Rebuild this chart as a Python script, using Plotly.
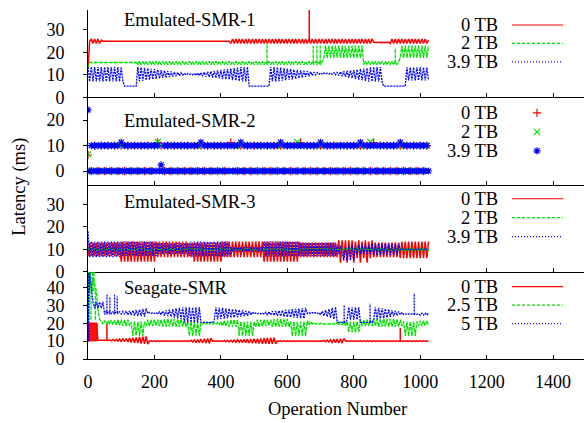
import plotly.graph_objects as go

# Latency sampled every 5 operations (panel-2 red/green every 10)
OPS = list(range(0, 1030, 5))
OPS_COARSE = list(range(0, 1030, 10))

X_TICKS = [0, 200, 400, 600, 800, 1000, 1200, 1400]

# ---- Emulated-SMR-1 ----
smr1_0tb = [
    13, 25, 26, 24, 26, 24, 26, 24, 25.5, 25, 25, 25, 25, 25, 25, 25, 25, 25, 25, 25,
    25, 25, 25, 25, 25, 25, 25, 25, 25, 25, 25, 25, 25, 25, 25, 25, 25, 25, 25, 25,
    25, 25, 25, 25, 25, 25, 25, 25, 25, 25, 25, 25, 25, 25, 25, 25, 25, 25, 25, 25,
    25, 25, 25, 25, 25, 25, 25, 25, 25, 25, 25, 25, 25, 25, 25, 25, 25, 25, 25, 25,
    25, 25, 25, 25, 25, 25, 24, 26, 24, 26, 24, 26, 24, 26, 24, 26, 24, 26, 24, 26,
    24, 26, 24, 26, 24, 26, 24, 26, 24, 26, 24, 26, 24, 26, 24, 26, 24, 26, 24, 26,
    24, 26, 24, 26, 24, 26, 24, 26, 24, 26, 24, 26, 24, 26, 24, 26, 24, 26, 24, 26,
    24, 26, 24, 26, 24, 26, 24, 26, 24, 26, 24, 26, 24, 26, 24, 26, 24, 26, 24, 26,
    24, 26, 24, 26, 24, 26, 24, 26, 24, 26, 24, 26, 24.5, 24.4, 24.5, 24.4, 24.5, 24.4, 24.5, 24.4,
    24.5, 24.4, 24, 26, 24, 26, 24, 26, 24, 26, 24, 26, 24, 26, 24, 26, 24, 26, 24, 26,
    24, 26, 24, 26, 24, 25.5]
smr1_2tb = [
    13, 15.5, 15.5, 15.5, 15.5, 15.5, 15.5, 15.5, 15.5, 15.5, 15.5, 15.5, 15.5, 15.5, 15.5, 15.5, 15.5, 15.5, 15.5, 15.5,
    15.5, 15.5, 15.5, 15.5, 15.5, 15.5, 15.5, 15.5, 15.5, 15.5, 14.5, 16, 14.5, 16, 14.5, 16, 14.5, 16, 14.5, 16,
    14.5, 16, 14.5, 16, 14.5, 16, 14.5, 16, 14.5, 16, 14.5, 16, 14.5, 16, 14.5, 16, 14.5, 16, 14.5, 16,
    14.5, 16, 14.5, 16, 14.5, 16, 14.5, 16, 14.5, 16, 14.5, 16, 14.5, 16, 14.5, 16, 14.5, 16, 14.5, 16,
    14.5, 16, 14.5, 16, 14.5, 16, 14.5, 16, 14.5, 16, 14.5, 16, 14.5, 16, 14.5, 16, 14.5, 16, 14.5, 16,
    14.5, 16, 14.5, 16, 14.5, 16, 14.5, 16, 14.5, 16, 14.5, 16, 14.5, 16, 14.5, 16, 14.5, 16, 14.5, 16,
    14.5, 16, 14.5, 16, 14.5, 16, 14.5, 16, 14.5, 16, 14.5, 16, 14.5, 16, 14.5, 16, 14.5, 16, 14.5, 16,
    14.5, 16, 17.5, 23, 17.5, 23, 17.5, 23, 17.5, 23, 17.5, 23, 17.5, 23, 17.5, 23, 17.5, 23, 17.5, 23,
    17.5, 23, 17.5, 23, 17.5, 23, 14.5, 16, 14.5, 16, 14.5, 16, 14.5, 16, 14.5, 16, 14.5, 16, 14.5, 16,
    14.5, 16, 14.5, 16, 14.5, 16, 14.5, 16, 17.5, 23, 17.5, 23, 17.5, 23, 17.5, 23, 17.5, 23, 17.5, 23,
    17.5, 23, 17.5, 23, 17.5, 23]
smr1_39tb = [
    13.5, 7, 13.5, 7, 13.5, 7, 13.5, 7, 13.5, 7, 13.5, 7, 13.5, 7, 13.5, 7, 13.5, 7, 13.5, 7,
    13.5, 7, 5, 5, 5, 5, 5, 5, 5, 5, 13.5, 7.2, 13.3, 7.4, 13.1, 7.6, 12.9, 7.8, 12.7, 8,
    12.5, 8.2, 12.3, 8.4, 12.1, 8.6, 11.9, 8.8, 11.7, 9, 11.5, 9.2, 11.3, 9.4, 11.1, 9.6, 10.9, 9.8, 10.7, 10,
    10.5, 10.1, 10.4, 10, 10.6, 9.8, 10.8, 9.6, 11, 9.4, 11.2, 9.2, 11.4, 9, 11.6, 8.8, 11.8, 8.6, 12, 8.4,
    12.2, 8.2, 12.4, 8, 12.6, 7.8, 12.8, 7.6, 13, 7.4, 13.2, 7.2, 13.4, 7, 13.5, 7, 13.5, 5, 5, 5,
    5, 5, 5, 5, 5, 5, 5, 5, 5, 5, 13.5, 7, 13.5, 7, 13.4, 7.2, 13.2, 7.4, 13, 7.6,
    12.8, 7.8, 12.6, 8, 12.4, 8.2, 12.2, 8.5, 12, 8.8, 11.8, 9.1, 11.6, 9.4, 11.4, 9.7, 11.2, 10, 11, 10.2,
    10.9, 10.3, 10.8, 10.4, 10.7, 10.4, 10.8, 10.2, 11, 10, 11.2, 9.7, 11.4, 9.4, 11.6, 9.1, 11.8, 8.8, 12, 8.5,
    12.2, 8.2, 12.4, 7.9, 12.6, 7.6, 12.8, 7.3, 13, 7, 13.3, 7, 13.5, 7, 13.5, 7, 13.5, 7, 5, 5,
    5, 5, 5, 5, 5, 5, 5, 5, 5, 5, 5, 5, 13.3, 7.5, 13.3, 7.5, 13.3, 7.5, 13.3, 7.5,
    13.3, 7.5, 13.3, 7.5, 13.3, 7.5]
smr1_0tb_spike_ops = [666]
smr1_0tb_spike_lo = [25]
smr1_0tb_spike_hi = [40]
smr1_2tb_spike_ops = [539, 678, 689, 699, 925]
smr1_2tb_spike_lo = [15, 15, 15, 15, 15]
smr1_2tb_spike_hi = [24, 23, 23, 23, 22]

# ---- Emulated-SMR-2 (points) ----
smr2_0tb = [6.3, 0, 10, 0, 10, 0, 10, 0, 10, 0,
            10, 0, 10, 0, 10, 0, 10, 0, 10, 0,
            10, 11.2, 10, 0, 10, 0, 10, 0, 10, 0,
            10, 0, 10, 0, 10, 0, 10, 0, 10, 0,
            10, 0, 10, 11.2, 10, 0, 10, 0, 10, 0,
            10, 0, 10, 0, 10, 0, 10, 0, 10, 0,
            10, 0, 10, 0, 11.2, 0, 10, 0, 10, 0,
            10, 0, 10, 0, 10, 0, 10, 0, 10, 0,
            10, 0, 10, 0, 10, 0, 11.2, 0, 10, 0,
            10, 0, 10, 0, 10, 0, 10, 0, 10, 0,
            10, 0, 10]
smr2_2tb = [6.6, 0, 10, 0, 10, 0, 10, 0, 10, 0,
            10, 0, 10, 0, 10, 0, 10, 0, 10, 0,
            10, 11.4, 10, 0, 10, 0, 10, 0, 10, 0,
            10, 0, 10, 0, 10, 0, 10, 0, 10, 0,
            10, 0, 10, 0, 10, 0, 10, 0, 10, 0,
            10, 0, 10, 0, 10, 0, 10, 0, 10, 0,
            10, 0, 10, 11.4, 10, 0, 10, 0, 10, 0,
            10, 0, 10, 0, 10, 0, 10, 0, 10, 0,
            10, 0, 10, 0, 10, 11.4, 10, 0, 10, 0,
            10, 0, 10, 0, 10, 0, 10, 0, 10, 0,
            10, 0, 10]
smr2_39tb = [
    24, 0, 10, 0, 10, 0, 10, 0, 10, 0, 10, 0, 10, 0, 10, 0, 10, 0, 10, 0,
    11.3, 0, 10, 0, 10, 0, 10, 0, 10, 0, 10, 0, 10, 0, 10, 0, 10, 0, 10, 0,
    10, 0, 10, 0, 2.4, 0, 10, 0, 10, 0, 10, 0, 10, 0, 10, 0, 10, 0, 10, 0,
    10, 0, 10, 0, 10, 0, 10, 0, 11.3, 0, 10, 0, 10, 0, 10, 0, 10, 0, 10, 0,
    10, 0, 10, 0, 10, 0, 10, 0, 10, 0, 10, 0, 11.3, 0, 10, 0, 10, 0, 10, 0,
    10, 0, 10, 0, 10, 0, 10, 0, 10, 0, 10, 0, 10, 0, 10, 0, 11.3, 0, 10, 0,
    10, 0, 10, 0, 10, 0, 10, 0, 10, 0, 10, 0, 10, 0, 10, 0, 10, 0, 10, 0,
    11.3, 0, 10, 0, 10, 0, 10, 0, 10, 0, 10, 0, 10, 0, 10, 0, 10, 0, 10, 0,
    10, 0, 10, 0, 11.3, 0, 10, 0, 10, 0, 10, 0, 10, 0, 10, 0, 10, 0, 10, 0,
    10, 0, 10, 0, 10, 0, 10, 0, 11.3, 0, 10, 0, 10, 0, 10, 0, 10, 0, 10, 0,
    10, 0, 10, 0, 10, 0]

# ---- Emulated-SMR-3 ----
smr3_0tb = [
    7, 13, 7, 13, 7, 13, 7, 13, 7, 13, 7, 13, 7, 13, 7, 13, 7, 13, 7, 13,
    4.5, 13.5, 4.5, 13.5, 4.5, 13.5, 4.5, 13.5, 4.5, 13.5, 4.5, 13.5, 4.5, 13.5, 4.5, 13.5, 4.5, 13.5, 4.5, 13.5,
    4.5, 13.5, 6.5, 13.5, 6.5, 13.5, 6.5, 13.5, 6.5, 13.5, 6.5, 13.5, 6.5, 13.5, 6.5, 13.5, 6.5, 13.5, 6.5, 13.5,
    6.5, 13, 6.5, 13, 4.5, 13, 4.5, 13, 4.5, 13, 4.5, 13, 4.5, 13, 4.5, 13, 4.5, 13, 4.5, 13,
    4.5, 13.5, 6.5, 13.5, 6.5, 13.5, 6.5, 13.5, 6.5, 13.5, 6.5, 13.5, 6.5, 13.5, 6.5, 13.5, 6.5, 13.5, 6.5, 13.5,
    6.5, 13.5, 6.5, 13.5, 6.5, 13.5, 4.5, 13.5, 4.5, 13.5, 4.5, 13.5, 4.5, 13.5, 4.5, 13.5, 4.5, 13.5, 4.5, 13.5,
    4.5, 13.5, 4.5, 13.5, 4.5, 13.5, 4.5, 13.5, 6.5, 13, 6.5, 13, 6.5, 13, 6.5, 13, 6.5, 13, 6.5, 13,
    6.5, 13, 6.5, 13, 6.5, 13, 6.5, 13, 6.5, 13, 6.5, 14, 4, 14, 6, 14, 4, 14, 6, 14,
    4, 13.5, 6, 14, 4, 13.5, 6, 14, 4, 13.5, 6, 14, 6.5, 13, 6.5, 13, 6.5, 13, 6.5, 13,
    6.5, 13, 6.5, 13, 6.5, 13, 6.5, 13, 6, 13.5, 6, 13.5, 6, 13.5, 6, 13.5, 6, 13.5, 6, 13.5,
    6, 13.5, 6, 13.5, 6, 13.5]
smr3_2tb = [
    10.6, 9.3, 10.6, 9.3, 10.6, 9.3, 10.6, 9.3, 10.6, 9.3, 10.6, 9.3, 10.6, 9.3, 10.6, 9.3, 10.6, 9.3, 10.6, 9.3,
    10.6, 9.3, 10.6, 9.3, 10.6, 9.3, 10.6, 9.3, 10.6, 9.3, 10.6, 9.3, 10.6, 9.3, 10.6, 9.3, 10.6, 9.3, 10.6, 9.3,
    10.6, 9.3, 10.6, 9.3, 10.6, 9.3, 10.6, 9.3, 10.6, 9.3, 10.6, 9.3, 10.6, 9.3, 10.6, 9.3, 10.6, 9.3, 10.6, 9.3,
    10.6, 9.3, 10.6, 9.3, 10.6, 9.3, 10.6, 9.3, 10.6, 9.3, 10.6, 9.3, 10.6, 9.3, 10.6, 9.3, 10.6, 9.3, 10.6, 9.3,
    10.6, 9.3, 10.6, 9.3, 10.6, 9.3, 10.6, 9.3, 10.6, 9.3, 10.6, 9.3, 10.6, 9.3, 10.6, 9.3, 10.6, 9.3, 10.6, 9.3,
    10.6, 9.3, 10.6, 9.3, 10.6, 9.3, 10.6, 9.3, 10.6, 9.3, 10.6, 9.3, 10.6, 9.3, 10.6, 9.3, 10.6, 9.3, 10.6, 9.3,
    10.6, 9.3, 10.6, 9.3, 10.6, 9.3, 10.6, 9.3, 10.6, 9.3, 10.6, 9.3, 10.6, 9.3, 10.6, 9.3, 10.6, 9.3, 10.6, 9.3,
    10.6, 9.3, 10.6, 9.3, 10.6, 9.3, 10.6, 9.3, 10.6, 9.3, 10.6, 9.3, 10.6, 9.3, 10.6, 9.3, 10.6, 9.3, 10.6, 9.3,
    10.6, 9.3, 10.6, 9.3, 10.6, 9.3, 10.6, 9.3, 10.6, 9.3, 10.6, 9.3, 10.6, 9.3, 10.6, 9.3, 10.6, 9.3, 10.6, 9.3,
    10.6, 9.3, 10.6, 9.3, 10.6, 9.3, 10.6, 9.3, 10.6, 9.3, 10.6, 9.3, 10.6, 9.3, 10.6, 9.3, 10.6, 9.3, 10.6, 9.3,
    10.6, 9.3, 10.6, 9.3, 10.6, 9.3]
smr3_39tb = [
    18, 6.5, 13.5, 6.5, 13.5, 6.5, 13.5, 6.5, 13.5, 6.5, 13.5, 6.5, 13.5, 6.5, 13.5, 6.5, 13.5, 6.5, 13.5, 6.5,
    13.5, 7, 13.5, 7, 13.5, 7, 13.5, 7, 13.5, 7, 13.5, 7, 13.5, 7, 13.5, 7, 13.5, 7, 13.5, 7,
    13.5, 7, 12.8, 8, 12.8, 8, 12.8, 8, 12.8, 8, 12.8, 8, 12.8, 8, 12.8, 8, 12.8, 8, 12.8, 8,
    12.8, 7, 13.5, 6.8, 13.5, 6.8, 13.5, 6.8, 13.5, 6.8, 13.5, 6.8, 13.5, 6.8, 13.5, 6.8, 13.5, 6.8, 13.5, 6.8,
    13.5, 6.8, 13.5, 6.8, 13.5, 6.8, 11, 9, 11, 9, 11, 9, 11, 9, 11, 9, 11, 9, 11, 9,
    11, 9, 11, 9, 11, 9, 13.5, 6.8, 13.5, 6.8, 13.5, 6.8, 13.5, 6.8, 13.5, 6.8, 13.5, 6.8, 13.5, 6.8,
    13.5, 6.8, 13.5, 6.8, 13.5, 6.8, 13.5, 6.8, 13, 7, 13, 7, 13, 7, 13, 7, 13, 7, 13, 7,
    13, 7, 13, 7, 13, 7, 13, 7, 13, 7, 12, 8, 11.5, 8.5, 5, 11, 5, 11.5, 5, 12,
    5, 11.5, 8, 12, 8, 12, 8, 12, 8, 12, 8, 12.5, 7.5, 12.5, 7.5, 12.5, 7.5, 12.5, 7.5, 12.5,
    7.5, 12.5, 7.5, 12.5, 7.5, 12.5, 7.5, 12.5, 9.8, 10.2, 9.8, 10.2, 9.8, 10.2, 9.8, 10.2, 9.8, 10.2, 9.8, 10.2,
    9.8, 10.2, 9.8, 10.2, 9.8, 10.2]

# ---- Seagate-SMR ----
sea_0tb = [
    10, 20, 20, 20, 20, 20, 10.5, 10.5, 10.5, 10.5, 10.5, 10.5, 10.4, 10.7, 10.2, 10.9, 10.1, 11, 10, 11.2,
    9.9, 11.3, 9.7, 11.5, 9.5, 11.7, 9.3, 11.9, 9.1, 12.1, 8.9, 12.3, 8.7, 12.5, 8.5, 12.6, 8.4, 10, 10.2, 9.8,
    10.2, 9.8, 10.2, 9.8, 10.2, 9.8, 10.2, 9.8, 10.2, 9.8, 10.2, 9.8, 10.2, 9.8, 10.2, 9.8, 10.2, 9.8, 10.2, 9.8,
    10.3, 9.7, 10.5, 9.5, 10.7, 9.3, 10.9, 9.1, 11.1, 9, 11.3, 8.9, 11.5, 8.8, 11.6, 10, 10.2, 9.8, 10.2, 9.8,
    10.2, 9.8, 10.3, 9.7, 10.4, 9.6, 10.5, 9.5, 10.6, 9.4, 10.8, 9.3, 10.9, 9.2, 11, 9.1, 11.1, 9, 11.2, 8.9,
    11.3, 8.8, 11.4, 8.7, 11.5, 8.6, 11.6, 8.6, 11.8, 8.5, 11.9, 8.5, 12, 8.5, 10.2, 9.9, 10.2, 9.9, 10.2, 9.9,
    10.2, 9.9, 10.2, 9.9, 10.2, 9.9, 10.2, 9.9, 10.2, 9.9, 10.2, 9.9, 10.2, 9.9, 10.2, 9.9, 10.2, 9.9, 10.2, 9.9,
    10.2, 9.9, 10.4, 9.7, 10.6, 9.5, 10.8, 9.3, 11, 9.1, 11.2, 9, 11.4, 8.9, 11.5, 10, 10.2, 9.9, 10.2, 9.9,
    10.2, 9.9, 10.2, 9.9, 10.2, 9.9, 10.2, 9.9, 10.2, 9.9, 10.2, 9.9, 10.2, 9.9, 10.2, 9.9, 10.2, 9.9, 10.2, 9.9,
    10.2, 9.9, 10.2, 9.9, 10.2, 9.9, 10.2, 9.9, 10.2, 9.9, 10.2, 9.9, 10.2, 9.9, 10.2, 9.9, 10.2, 9.9, 10.2, 9.9,
    10.2, 9.9, 10.2, 9.9, 10.2, 10]
sea_25tb = [
    49, 42, 40, 45, 42, 38, 28, 22, 21.5, 19.5, 21.5, 19.5, 21.5, 19.5, 21.8, 19.2, 21.8, 19, 22, 18.8,
    22, 18.5, 22, 18.5, 22, 18.5, 20.5, 13, 21, 13, 21, 13, 21, 13, 21, 18.5, 22, 18.5, 22, 18.5,
    22, 18.5, 22, 18.5, 22, 18.2, 22.3, 18, 22.5, 18, 22.5, 18, 22.5, 18, 22.5, 18, 22.5, 18, 22.5, 18,
    21, 13, 21, 13, 21, 13, 21, 13, 20, 19.5, 20.5, 19.5, 20.5, 19.5, 20.5, 19.5, 20.5, 19.5, 20.5, 19,
    21, 18.5, 21.5, 18.5, 21.5, 18, 22, 18, 22, 18, 22, 13, 21, 13, 21, 13, 21, 13, 21, 13,
    21, 18, 22, 18, 22, 18.5, 22, 18.5, 22, 18.5, 22, 18, 22.5, 18, 22.5, 18, 22.5, 18, 22.5, 18,
    22.5, 18, 21, 13, 21, 13, 21, 13, 21, 13, 21, 13, 21.5, 19, 21, 19.5, 20.5, 19.5, 20, 19.5,
    20, 19.5, 19.8, 19.5, 19.8, 19.5, 19.8, 19.5, 20, 19.3, 20.5, 19, 20.5, 19, 21, 18.5, 21, 15, 21, 15,
    21, 15, 21, 15, 21.5, 18.5, 22, 18.5, 22, 18.5, 22, 18.5, 22, 18.5, 22.5, 18, 22.5, 18, 22.5, 18,
    22.5, 18, 22.5, 18, 22.5, 18, 22.5, 18, 22, 18.5, 21, 13, 21, 13, 21, 13, 21, 13, 21, 18.5,
    21.5, 18.5, 21.5, 18.5, 21.5, 19]
sea_5tb = [
    10, 48, 40, 32, 28.5, 32, 28.5, 32, 28.5, 32, 25, 27, 25.5, 26.5, 25.5, 26.5, 25.5, 26.5, 25.5, 26.5,
    25.2, 26.6, 25, 26.9, 24.8, 27.1, 24.6, 27.3, 24.4, 27.5, 24.2, 27.8, 24, 28.1, 23.8, 28.4, 25.5, 26, 25.5, 26,
    25.5, 26, 25.2, 26.4, 24.8, 26.8, 24.4, 27.2, 24, 27.6, 23.6, 28, 23.2, 28.4, 22.8, 28.7, 22.4, 29, 20.5, 29,
    20.5, 29, 20.5, 29, 20.5, 29, 20.5, 29, 20.5, 20.5, 20.5, 20.5, 20.5, 20.5, 20.5, 20.5, 22, 29, 22.2, 28.8,
    22.4, 28.6, 22.6, 28.4, 22.8, 28.2, 23, 28, 23.2, 27.8, 23.4, 27.6, 23.7, 27.3, 24, 27, 24.3, 26.7, 24.7, 26.3,
    25.3, 25.8, 25.3, 25.8, 25.3, 25.8, 25, 26.2, 24.8, 26.5, 24.6, 26.7, 24.4, 26.9, 24.2, 27.1, 24, 27.3, 23.8, 27.5,
    23.6, 27.7, 23.4, 27.9, 23.2, 28.1, 23, 28.3, 22.8, 28.5, 22.7, 28.6, 25.5, 26, 25.5, 26, 25.5, 26, 25.5, 26,
    24.8, 26.8, 24.2, 27.4, 23.6, 28, 23, 28.6, 22.4, 29.2, 20.8, 20.5, 20.5, 20.5, 20.5, 20.5, 22, 29, 22, 29,
    22, 29, 22, 29, 20.5, 20.5, 20.5, 20.5, 20.5, 20.5, 20.5, 20.5, 22, 29, 22.3, 28.7, 22.6, 28.4, 22.9, 28.1,
    23.2, 27.8, 23.6, 27.4, 24, 27, 24.4, 26.6, 24.8, 26.2, 25, 25.3, 25, 25.3, 25, 25.3, 25, 25.3, 25, 25.3,
    24.6, 25.7, 24.6, 25.7, 24.6, 25.7]
sea_0tb_spike_ops = [0, 3, 6, 9, 12, 15, 18, 21, 24, 27, 57, 940]
sea_0tb_spike_lo = [10, 10, 10, 10, 10, 10, 10, 10, 10, 10, 10.5, 10]
sea_0tb_spike_hi = [20, 20, 20, 20, 20, 20, 20, 20, 20, 20, 20, 17.4]
sea_25tb_spike_ops = [1, 5, 9, 14, 18, 22]
sea_25tb_spike_lo = [20, 38, 22, 38, 38, 22]
sea_25tb_spike_hi = [49, 49, 49, 49, 49, 38]
sea_5tb_spike_ops = [2, 57, 66, 80, 88, 771, 849, 982]
sea_5tb_spike_lo = [10, 25, 25, 25, 26, 20.5, 20.5, 25]
sea_5tb_spike_hi = [48, 36, 35, 36, 35, 30.5, 31, 37]

RED, GREEN, BLUE = "#ff0000", "#00e000", "#0000ff"
# styles for the dense data traces
STYLE = {
    "red": dict(color=RED, width=1.5, dash="solid"),
    "green": dict(color=GREEN, width=1.3, dash="4px,1px"),
    "blue": dict(color=BLUE, width=1.3, dash="2px,1px"),
}
# styles for the key samples
KEY_STYLE = {
    "red": dict(color=RED, width=1.2, dash="solid"),
    "green": dict(color=GREEN, width=1.2, dash="3px,2px"),
    "blue": dict(color=BLUE, width=1.2, dash="1px,2px"),
}
FONT = dict(family="Liberation Serif", size=18.5, color="black")
TICK_FONT = dict(family="Liberation Serif", size=18, color="black")

W, H = 584, 423
ML, MR, MT, MB = 88, 0, 10, 63.5
PW, PH = W - ML - MR, H - MT - MB


def paper(xp, yp):
    return (xp - ML) / PW, (H - MB - yp) / PH


def spikes(ops, lo, hi):
    xs, ys = [], []
    for o, a, b in zip(ops, lo, hi):
        xs += [o, o, None]
        ys += [a, b, None]
    return xs, ys


fig = go.Figure()


def add_line(ax, ops, vals, key):
    fig.add_trace(go.Scatter(x=ops, y=vals, mode="lines",
                             line=dict(STYLE[key], simplify=False),
                             xaxis="x" + ax, yaxis="y" + ax, showlegend=False,
                             hoverinfo="skip"))


def add_spikes(ax, ops, lo, hi, key):
    xs, ys = spikes(ops, lo, hi)
    add_line(ax, xs, ys, key)


def add_points(ax, ops, vals, color, symbol, size):
    fig.add_trace(go.Scatter(x=ops, y=vals, mode="markers",
                             marker=dict(symbol=symbol, size=size, color=color,
                                         line=dict(color=color, width=1.2)),
                             xaxis="x" + ax, yaxis="y" + ax, showlegend=False,
                             hoverinfo="skip"))


# Panel 1
add_line("", OPS, smr1_0tb, "red")
add_spikes("", smr1_0tb_spike_ops, smr1_0tb_spike_lo, smr1_0tb_spike_hi, "red")
add_line("", OPS, smr1_2tb, "green")
add_spikes("", smr1_2tb_spike_ops, smr1_2tb_spike_lo, smr1_2tb_spike_hi, "green")
add_line("", OPS, smr1_39tb, "blue")
# Panel 2
add_points("2", OPS_COARSE, smr2_0tb, RED, "cross-thin", 6)
add_points("2", OPS_COARSE, smr2_2tb, GREEN, "x-thin", 6)
add_points("2", OPS, smr2_39tb, BLUE, "asterisk", 6)
# Panel 3
add_line("3", OPS, smr3_0tb, "red")
add_line("3", OPS, smr3_2tb, "green")
add_line("3", OPS, smr3_39tb, "blue")
# Panel 4
add_line("4", OPS, sea_0tb, "red")
add_spikes("4", sea_0tb_spike_ops, sea_0tb_spike_lo, sea_0tb_spike_hi, "red")
add_line("4", OPS, sea_25tb, "green")
add_spikes("4", sea_25tb_spike_ops, sea_25tb_spike_lo, sea_25tb_spike_hi, "green")
add_line("4", OPS, sea_5tb, "blue")
add_spikes("4", sea_5tb_spike_ops, sea_5tb_spike_lo, sea_5tb_spike_hi, "blue")

panels = [
    # axis suffix, y domain, y range, y ticks, title, title y, key labels, key row y, point key
    ("", [0.75, 1.0], [0, 38.9], [0, 10, 20, 30], "Emulated-SMR-1", 20,
     ["0 TB", "2 TB", "3.9 TB"], [25, 43.5, 62], False),
    ("2", [0.5, 0.75], [-5.3, 29], [0, 10, 20], "Emulated-SMR-2", 121,
     ["0 TB", "2 TB", "3.9 TB"], [113, 132, 151], True),
    ("3", [0.25, 0.5], [0, 38.9], [0, 10, 20, 30], "Emulated-SMR-3", 202,
     ["0 TB", "2 TB", "3.9 TB"], [199, 218, 237], False),
    ("4", [0.0, 0.25], [0, 48.9], [0, 10, 20, 30, 40], "Seagate-SMR", 288,
     ["0 TB", "2.5 TB", "5 TB"], [287, 305.5, 324], False),
]

annotations = []
layout_axes = {}
for ax, dom, yr, yt, title, ty, labels, rows, pts in panels:
    last = ax == "4"
    layout_axes["xaxis" + ax] = dict(
        domain=[0, 1], range=[0, 1493], anchor="y" + ax, tickvals=X_TICKS,
        showticklabels=last, ticks="inside", ticklen=4, tickcolor="black",
        showline=True, linecolor="black", linewidth=1, showgrid=False,
        zeroline=False, tickfont=TICK_FONT, ticklabelstandoff=6)
    layout_axes["yaxis" + ax] = dict(
        domain=dom, range=yr, anchor="x" + ax, tickvals=yt, ticks="outside",
        ticklen=4, tickcolor="black", showline=True, linecolor="black",
        linewidth=1, showgrid=False, zeroline=False, tickfont=TICK_FONT,
        ticklabelstandoff=15)
    tx, tyy = paper(122, ty)
    annotations.append(dict(text=title, x=tx, y=tyy, xref="paper", yref="paper",
                            xanchor="left", yanchor="middle", showarrow=False,
                            font=FONT))
    for lab, ry, key in zip(labels, rows, ["red", "green", "blue"]):
        lx, ly = paper(500, ry)
        annotations.append(dict(text=lab, x=lx, y=ly, xref="paper", yref="paper",
                                xanchor="right", yanchor="middle",
                                showarrow=False, font=FONT))
        if pts:
            sym = {"red": "cross-thin", "green": "x-thin", "blue": "asterisk"}[key]
            col = STYLE[key]["color"]
            fig.add_trace(go.Scatter(x=[537], y=[ry], mode="markers",
                                     marker=dict(symbol=sym, size=6, color=col,
                                                 line=dict(color=col, width=1.2)),
                                     xaxis="x5", yaxis="y5", showlegend=False,
                                     hoverinfo="skip"))
        else:
            fig.add_trace(go.Scatter(x=[512, 563], y=[ry, ry], mode="lines",
                                     line=KEY_STYLE[key], xaxis="x5", yaxis="y5",
                                     showlegend=False, hoverinfo="skip"))

# axis titles
lx, ly = paper(20, 187)
annotations.append(dict(text="Latency (ms)", x=lx, y=ly, xref="paper", yref="paper",
                        xanchor="center", yanchor="middle", textangle=-90,
                        showarrow=False, font=FONT))
lx, ly = paper(337, 410)
annotations.append(dict(text="Operation Number", x=lx, y=ly, xref="paper",
                        yref="paper", xanchor="center", yanchor="middle",
                        showarrow=False, font=FONT))

# pixel-space overlay holding the key samples
layout_axes["xaxis5"] = dict(domain=[0, 1], range=[ML, W - MR], anchor="y5",
                             visible=False, fixedrange=True)
layout_axes["yaxis5"] = dict(domain=[0, 1], range=[H - MB, MT], anchor="x5",
                             visible=False, fixedrange=True)

fig.update_layout(
    width=W, height=H,
    margin=dict(l=ML, r=MR, t=MT, b=MB, pad=0),
    paper_bgcolor="white", plot_bgcolor="rgba(0,0,0,0)",
    annotations=annotations, showlegend=False,
    font=FONT,
    **layout_axes,
)

fig.write_html("out.html", config={"displayModeBar": False})
